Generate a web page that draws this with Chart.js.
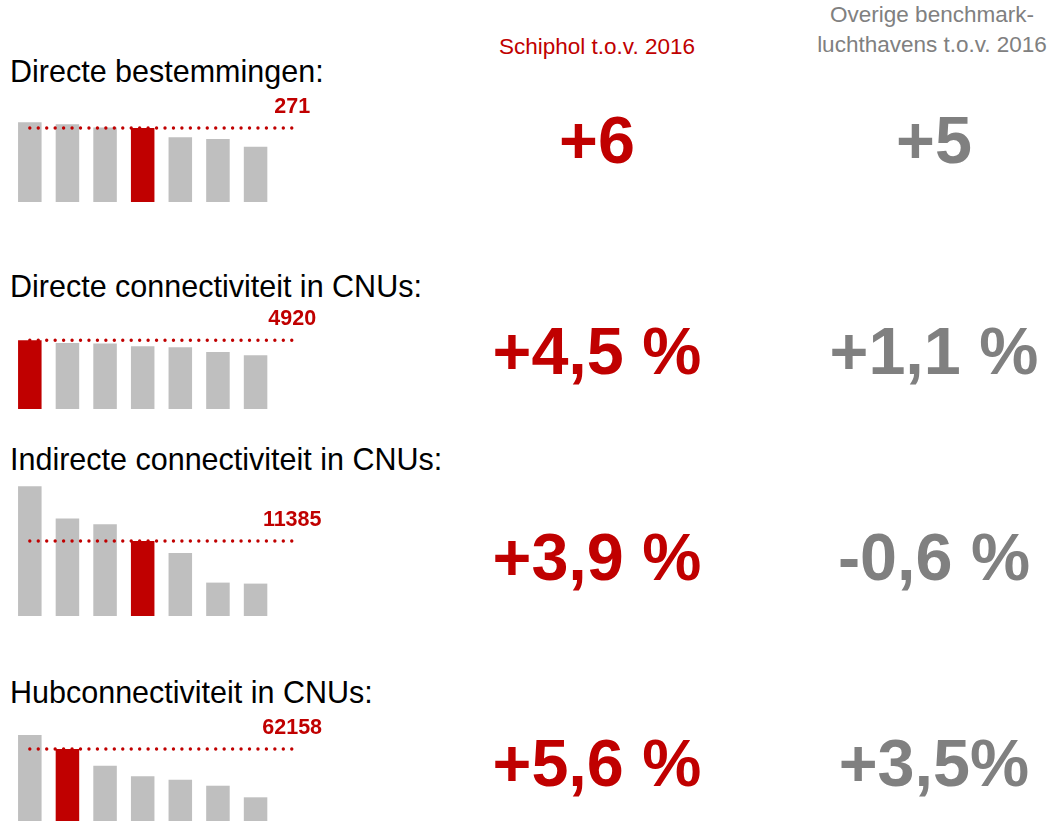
<!DOCTYPE html>
<html>
<head>
<meta charset="utf-8">
<script src="https://cdn.jsdelivr.net/npm/chart.js"></script>
<style>
body { margin: 0; width: 1054px; height: 821px; overflow: hidden; background: #fff;
       font-family: "Liberation Sans", Arial, sans-serif; position: relative; }
.t { position: absolute; white-space: nowrap; }
.title { left: 10px; font-size: 30.5px; line-height: 30px; color: #000; }
.big { font-size: 66.5px; line-height: 68px; font-weight: bold; width: 340px; text-align: center; }
.red { color: #c00000; }
.grey { color: #808080; }
.head { font-size: 22.5px; line-height: 30px; width: 300px; text-align: center; }
canvas { position: absolute; left: 0; }
</style>
</head>
<body>

<div class="t head red" style="left:447px; top:32px;">Schiphol t.o.v. 2016</div>
<div class="t head grey" style="left:782px; top:0px;">Overige benchmark-<br>luchthavens t.o.v. 2016</div>

<div id="page"></div>

<script>
// ranks of the benchmark airports (last slot is empty, it holds the value label)
var ranks = ["1", "2", "3", "4", "5", "6", "7", ""];

var titles = ["Directe bestemmingen:", "Directe connectiviteit in CNUs:",
              "Indirecte connectiviteit in CNUs:", "Hubconnectiviteit in CNUs:"];

var directeBestemmingen = [292, 285, 273, 271, 237, 231, 202];
var directeConnectiviteit = [4920, 4727, 4683, 4490, 4419, 4082, 3846];
var indirecteConnectiviteit = [19690, 14786, 13921, 11385, 9564, 5070, 4918];
var hubConnectiviteit = [74070, 62158, 47930, 38890, 36000, 30890, 21020];

// which bar is Schiphol, and its value
var schipholIndex = [3, 0, 3, 1];
var schipholValue = [271, 4920, 11385, 62158];

var schipholChange = ["+6", "+4,5 %", "+3,9 %", "+5,6 %"];
var benchmarkChange = ["+5", "+1,1 %", "-0,6 %", "+3,5%"];

var yMax = [476, 9310, 19734, 110690];

// layout
var canvasTop = [42, 249, 456, 662];
var titleMid = [71, 286, 459, 692];
var bigMid = [140, 351, 557, 763];

var series = [directeBestemmingen, directeConnectiviteit, indirecteConnectiviteit, hubConnectiviteit];

// dotted reference line + value label
var refLine = {
    id: "refLine",
    afterDatasetsDraw: function (chart) {
        var i = chart.options.plugins.refLine.index;
        var x = chart.scales.x, y = chart.scales.y;
        var ctx = chart.ctx;
        var yv = y.getPixelForValue(schipholValue[i]);
        var x0 = x.getPixelForValue(0), x1 = x.getPixelForValue(ranks.length - 1);
        ctx.save();
        ctx.strokeStyle = "#c00000";
        ctx.lineWidth = 3.4;
        ctx.lineCap = "round";
        ctx.setLineDash([0, 8.45]);
        ctx.beginPath();
        ctx.moveTo(x0, yv);
        ctx.lineTo(x1 + 1, yv);
        ctx.stroke();
        ctx.setLineDash([]);
        ctx.fillStyle = "#c00000";
        ctx.font = "bold 21.5px 'Liberation Sans', Arial, sans-serif";
        ctx.textAlign = "center";
        ctx.textBaseline = "middle";
        ctx.fillText(String(schipholValue[i]), x1 - 1, yv - 21);
        ctx.restore();
    }
};

var page = document.getElementById("page");

for (var i = 0; i < 4; i++) {
    var t = document.createElement("div");
    t.className = "t title";
    t.style.top = (titleMid[i] - 15) + "px";
    t.textContent = titles[i];
    page.appendChild(t);

    var a = document.createElement("div");
    a.className = "t big red";
    a.style.left = "427px";
    a.style.top = (bigMid[i] - 34) + "px";
    a.textContent = schipholChange[i];
    page.appendChild(a);

    var b = document.createElement("div");
    b.className = "t big grey";
    b.style.left = "764px";
    b.style.top = (bigMid[i] - 34) + "px";
    b.textContent = benchmarkChange[i];
    page.appendChild(b);

    var c = document.createElement("canvas");
    c.width = 330;
    c.height = 160;
    c.style.top = canvasTop[i] + "px";
    page.appendChild(c);

    var colors = series[i].map(function (v, k) {
        return k === schipholIndex[i] ? "#c00000" : "#bfbfbf";
    });

    new Chart(c.getContext("2d"), {
        type: "bar",
        data: {
            labels: ranks,
            datasets: [{
                data: series[i],
                backgroundColor: colors,
                borderWidth: 0,
                categoryPercentage: 1,
                barPercentage: 0.625
            }]
        },
        options: {
            responsive: false,
            animation: false,
            layout: { padding: { left: 11, right: 18, top: 30, bottom: 0 } },
            plugins: { legend: { display: false }, tooltip: { enabled: false }, refLine: { index: i } },
            scales: {
                x: { display: false },
                y: { display: false, min: 0, max: yMax[i] }
            }
        },
        plugins: [refLine]
    });
}
</script>
</body>
</html>
